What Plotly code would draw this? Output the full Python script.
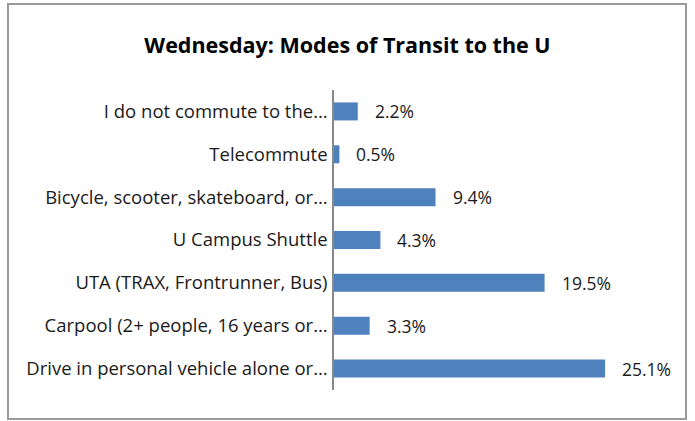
import plotly.graph_objects as go

# Survey responses, listed top to bottom as shown
modes = [
    "I do not commute to the…",
    "Telecommute",
    "Bicycle, scooter, skateboard, or…",
    "U Campus Shuttle",
    "UTA (TRAX, Frontrunner, Bus)",
    "Carpool (2+ people, 16 years or…",
    "Drive in personal vehicle alone or…",
]
shares = [2.2, 0.5, 9.4, 4.3, 19.5, 3.3, 25.1]

FONT = "Open Sans, Carlito, Calibri, sans-serif"

fig = go.Figure()
fig.add_trace(
    go.Bar(
        x=shares,
        y=modes,
        orientation="h",
        marker=dict(color="#4F81BD", line=dict(color="#4F81BD", width=0)),
        hoverinfo="x+y",
    )
)

# Data labels to the right of each bar
for m, v in zip(modes, shares):
    fig.add_annotation(
        x=v, y=m, text=f"{v:.1f}%",
        showarrow=False, xanchor="left", xshift=15,
        font=dict(family=FONT, size=17.5, color="#1a1a1a"),
    )

fig.update_layout(
    width=695,
    height=421,
    paper_bgcolor="white",
    plot_bgcolor="white",
    margin=dict(l=334, r=37, t=90, b=31),
    bargap=0.58,
    showlegend=False,
    title=dict(
        text="<b>Wednesday: Modes of Transit to the U</b>",
        x=0.5, xanchor="center", y=0.893, yanchor="middle",
        font=dict(family=FONT, size=21.5, color="#000"),
    ),
    font=dict(family=FONT),
)

fig.update_xaxes(range=[0, 30], visible=False, fixedrange=True)
fig.update_yaxes(
    categoryorder="array",
    categoryarray=modes[::-1],
    showline=True, linecolor="#888", linewidth=1.5,
    ticks="", ticklabelstandoff=1,
    tickfont=dict(family=FONT, size=18.5, color="#1a1a1a"),
    showgrid=False, fixedrange=True,
)

# Chart-area border (in screen pixels: x 8..686, y 4..419)
pw, ph = 695 - 334 - 37, 421 - 90 - 31
fig.add_shape(
    type="rect", xref="paper", yref="paper",
    x0=(8 - 334) / pw, x1=(686 - 334) / pw,
    y0=(421 - 31 - 419) / ph, y1=(421 - 31 - 4) / ph,
    line=dict(color="#9a9a9a", width=2),
)

# drop the default page margin so the figure sits at the window origin
fig.write_html(
    "out.html",
    config={"displayModeBar": False},
    post_script="document.body.style.margin='0';",
)
